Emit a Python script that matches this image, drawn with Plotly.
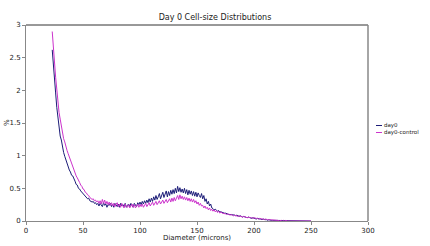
import plotly.graph_objects as go

diameter = list(range(23, 251))

day0 = [
    2.62, 2.34, 2.08, 1.96, 1.74, 1.58, 1.46, 1.30, 1.24, 1.13,
    1.05, 0.99, 0.93, 0.86, 0.84, 0.78, 0.75, 0.70, 0.69, 0.63,
    0.61, 0.56, 0.55, 0.50, 0.49, 0.46, 0.44, 0.41, 0.40, 0.37,
    0.36, 0.34, 0.35, 0.31, 0.30, 0.29, 0.30, 0.27, 0.28, 0.25,
    0.27, 0.23, 0.27, 0.25, 0.22, 0.28, 0.24, 0.26, 0.21, 0.25,
    0.24, 0.27, 0.22, 0.25, 0.21, 0.27, 0.24, 0.22, 0.26, 0.21,
    0.27, 0.23, 0.25, 0.22, 0.27, 0.21, 0.24, 0.26, 0.22, 0.27,
    0.24, 0.21, 0.27, 0.25, 0.22, 0.28, 0.25, 0.29, 0.25, 0.30,
    0.26, 0.31, 0.27, 0.32, 0.28, 0.34, 0.29, 0.35, 0.30, 0.37,
    0.32, 0.39, 0.33, 0.37, 0.42, 0.34, 0.40, 0.44, 0.36, 0.43,
    0.46, 0.37, 0.45, 0.39, 0.47, 0.41, 0.48, 0.42, 0.50, 0.43,
    0.53, 0.45, 0.51, 0.44, 0.49, 0.43, 0.50, 0.42, 0.48, 0.40,
    0.47, 0.41, 0.46, 0.39, 0.45, 0.38, 0.44, 0.37, 0.43, 0.39,
    0.36, 0.42, 0.34, 0.39, 0.30, 0.34, 0.26, 0.30, 0.23, 0.26,
    0.20, 0.19, 0.17, 0.18, 0.16, 0.15, 0.16, 0.14, 0.14, 0.13,
    0.13, 0.12, 0.12, 0.11, 0.11, 0.10, 0.10, 0.10, 0.09, 0.09,
    0.09, 0.08, 0.09, 0.08, 0.07, 0.08, 0.07, 0.06, 0.07, 0.06,
    0.06, 0.05, 0.06, 0.05, 0.05, 0.04, 0.05, 0.04, 0.04, 0.03,
    0.04, 0.03, 0.03, 0.03, 0.02, 0.03, 0.02, 0.02, 0.02, 0.01,
    0.02, 0.01, 0.01, 0.01, 0.01, 0.00, 0.01, 0.00, 0.01, 0.00,
    0.00, 0.00, 0.00, 0.00, 0.00, 0.00, 0.00, 0.00, 0.00, 0.00,
    0.00, 0.00, 0.00, 0.00, 0.00, 0.00, 0.00, 0.00, 0.00, 0.00,
    0.00, 0.00, 0.00, 0.00, 0.00, 0.00, 0.00, 0.00,
]

day0_control = [
    2.90, 2.62, 2.38, 2.20, 2.02, 1.82, 1.66, 1.56, 1.44, 1.36,
    1.26, 1.21, 1.12, 1.08, 1.03, 0.98, 0.93, 0.87, 0.84, 0.77,
    0.74, 0.69, 0.66, 0.61, 0.59, 0.55, 0.53, 0.49, 0.48, 0.44,
    0.43, 0.40, 0.39, 0.36, 0.35, 0.33, 0.34, 0.31, 0.32, 0.29,
    0.31, 0.27, 0.31, 0.26, 0.33, 0.27, 0.32, 0.26, 0.30, 0.25,
    0.29, 0.24, 0.28, 0.23, 0.27, 0.22, 0.26, 0.28, 0.22, 0.26,
    0.21, 0.27, 0.23, 0.20, 0.26, 0.22, 0.21, 0.25, 0.20, 0.24,
    0.26, 0.21, 0.25, 0.20, 0.24, 0.26, 0.21, 0.25, 0.22, 0.26,
    0.21, 0.25, 0.27, 0.22, 0.26, 0.28, 0.23, 0.27, 0.29, 0.24,
    0.28, 0.30, 0.25, 0.29, 0.31, 0.26, 0.30, 0.32, 0.27, 0.31,
    0.33, 0.28, 0.32, 0.34, 0.29, 0.35, 0.30, 0.36, 0.31, 0.37,
    0.39, 0.33, 0.40, 0.34, 0.38, 0.33, 0.37, 0.32, 0.36, 0.31,
    0.35, 0.30, 0.34, 0.29, 0.33, 0.28, 0.31, 0.26, 0.29, 0.24,
    0.27, 0.23, 0.24, 0.20, 0.23, 0.19, 0.21, 0.17, 0.20, 0.16,
    0.18, 0.15, 0.17, 0.14, 0.16, 0.13, 0.15, 0.12, 0.14, 0.12,
    0.12, 0.11, 0.11, 0.10, 0.11, 0.10, 0.09, 0.10, 0.09, 0.08,
    0.09, 0.08, 0.08, 0.07, 0.08, 0.07, 0.07, 0.06, 0.07, 0.06,
    0.06, 0.05, 0.06, 0.05, 0.05, 0.05, 0.04, 0.05, 0.04, 0.04,
    0.04, 0.03, 0.04, 0.03, 0.03, 0.03, 0.02, 0.03, 0.02, 0.02,
    0.02, 0.02, 0.01, 0.02, 0.01, 0.01, 0.01, 0.01, 0.01, 0.00,
    0.01, 0.01, 0.00, 0.01, 0.00, 0.01, 0.00, 0.00, 0.01, 0.00,
    0.00, 0.01, 0.00, 0.00, 0.00, 0.01, 0.00, 0.00, 0.00, 0.00,
    0.00, 0.00, 0.00, 0.00, 0.00, 0.00, 0.00, 0.00,
]

series_names = ["day0", "day0-control"]
series_colors = ["#1c1c78", "#cc33cc"]
x_ticks = [0, 50, 100, 150, 200, 250, 300]
y_ticks = [0, 0.5, 1, 1.5, 2, 2.5, 3]

FONT = "DejaVu Sans"
W, H = 430, 246
L, R, T, B = 26, 62, 25, 25
PW, PH = W - L - R, H - T - B

fig = go.Figure()
for name, vals, col in zip(series_names, [day0, day0_control], series_colors):
    fig.add_trace(go.Scatter(x=diameter, y=vals, mode="lines", name=name,
                             line=dict(color=col, width=1), showlegend=False))

fig.update_layout(
    width=W, height=H,
    margin=dict(l=L, r=R, t=T, b=B, autoexpand=False),
    paper_bgcolor="white", plot_bgcolor="white",
    font=dict(family=FONT, size=7, color="#222"),
    title=dict(text="Day 0 Cell-size Distributions", x=0.5, xanchor="center",
               y=1 - 17 / H, yanchor="middle", font=dict(size=8, color="#222")),
    xaxis=dict(range=[0, 300], tickvals=x_ticks, showgrid=False, zeroline=False,
               showline=True, linecolor="#888", linewidth=1, automargin=False,
               ticks="outside", ticklen=3, tickcolor="#888"),
    yaxis=dict(range=[0, 3], tickvals=y_ticks, showgrid=False, zeroline=False,
               showline=True, linecolor="#888", linewidth=1, automargin=False,
               ticks="outside", ticklen=3, tickcolor="#888"),
)

# axis titles
fig.add_annotation(xref="paper", yref="paper", x=0.5, y=-(238 - (H - B)) / PH,
                   text="Diameter (microns)", showarrow=False,
                   xanchor="center", yanchor="middle", font=dict(size=7))
fig.add_annotation(xref="paper", yref="paper", x=-(L - 7) / PW, y=(H - B - 123) / PH,
                   text="%", textangle=-90, showarrow=False,
                   xanchor="center", yanchor="middle", font=dict(size=7))

# frame: dark top edge, grey right edge
fig.add_shape(type="line", xref="paper", yref="paper", x0=0, x1=1, y0=1, y1=1,
              line=dict(color="#333", width=1))
fig.add_shape(type="line", xref="paper", yref="paper", x0=1, x1=1, y0=0, y1=1,
              line=dict(color="#888", width=1.5))

# legend drawn manually
leg_y = [(H - B - 125.5) / PH, (H - B - 132.5) / PH]
for name, col, yy in zip(series_names, series_colors, leg_y):
    fig.add_shape(type="line", xref="paper", yref="paper",
                  x0=(376 - L) / PW, x1=(382 - L) / PW,
                  y0=yy, y1=yy, line=dict(color=col, width=1))
    fig.add_annotation(xref="paper", yref="paper", x=(382.5 - L) / PW, y=yy, text=name,
                       showarrow=False, xanchor="left", yanchor="middle",
                       font=dict(size=5.5, color="#222"), borderpad=0)

fig.write_html("out.html", config={"displayModeBar": False},
               post_script="document.body.style.margin='0px';document.body.style.overflow='hidden';")
